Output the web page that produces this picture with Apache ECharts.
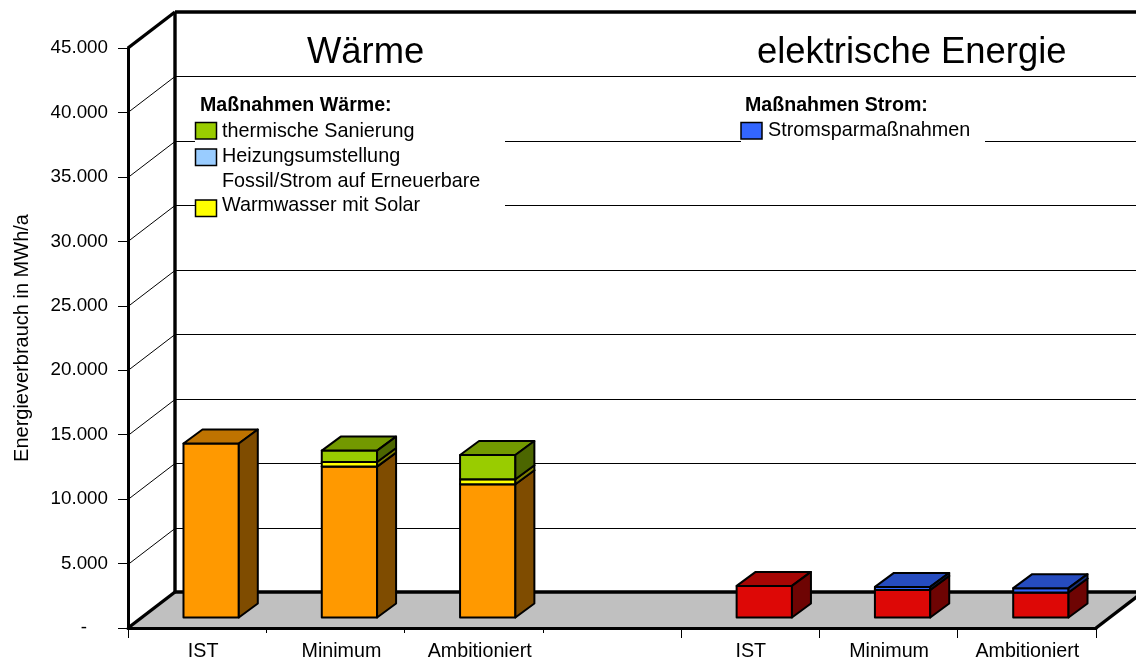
<!DOCTYPE html>
<html>
<head>
<meta charset="utf-8">
<title>Energieverbrauch</title>
<script src="https://cdn.jsdelivr.net/npm/echarts@6/dist/echarts.min.js"></script>
<style>
  html, body { margin: 0; padding: 0; background: #fff; }
  #chart { width: 1136px; height: 661px; }
</style>
</head>
<body>
<div id="chart"></div>
<script>
const categories = ['IST', 'Minimum', 'Ambitioniert', '', 'IST', 'Minimum', 'Ambitioniert']
const yTicks = [0, 5000, 10000, 15000, 20000, 25000, 30000, 35000, 40000, 45000]
// category boundaries that carry a long tick in the original
const longTicks = [0, 4, 5, 6, 7]

// MWh/a
const bestand = [13500, 11710, 10340, null, null, null, null]
const solar = [0, 350, 390, null, null, null, null]
const heizung = [0, 0, 0, null, null, null, null]
const sanierung = [0, 890, 1880, null, null, null, null]
const strom = [null, null, null, null, 2450, 2140, 1940]
const stromsparen = [null, null, null, null, 0, 235, 335]

const FONT = '"Liberation Sans", Arial, sans-serif'
// 3D look: depth of the chart box and where the bars sit in it
const DX = 47
const DY = 36
const BAR_DX = 14
const BAR_DY = 10.5
const BAR_DEPTH_X = 19
const BAR_DEPTH_Y = 14

function poly (points, fill, width) {
  return {
    type: 'polygon',
    shape: { points },
    style: { fill, stroke: '#000', lineWidth: width, lineJoin: 'round' }
  }
}

function line (x1, y1, x2, y2, width) {
  return {
    type: 'line',
    shape: { x1, y1, x2, y2 },
    style: { stroke: '#000', lineWidth: width, fill: null }
  }
}

// walls, floor and gridlines, one item per y tick
function renderWall (params, api) {
  const v = api.value(0)
  const cs = params.coordSys
  const y = Math.round(api.coord([0, v])[1])
  const left = cs.x
  const right = cs.x + cs.width
  const children = []
  if (v === 0) {
    children.push({
      type: 'polygon',
      shape: { points: [[left, y], [left + DX, y - DY], [right + DX, y - DY], [right, y]] },
      style: { fill: '#c0c0c0' }
    })
    children.push(line(left, y, left + DX, y - DY, 3.4))
    children.push(line(left + DX, y - DY, right + DX, y - DY, 3.4))
    children.push(line(right, y, right + DX, y - DY, 3.4))
    children.push(line(left + DX, y - DY, left + DX, y - DY - cs.height, 3.4))
  } else if (v === 45000) {
    children.push(line(left, y, left + DX, y - DY, 3.4))
    children.push(line(left + DX, y - DY, right + DX, y - DY, 3.4))
  } else {
    children.push(line(left, y + 0.5, left + DX, y - DY + 0.5, 1))
    children.push(line(left + DX, y - DY + 0.5, right + DX, y - DY + 0.5, 1))
  }
  return { type: 'group', children }
}

function renderLongTick (params, api) {
  const cs = params.coordSys
  const x = Math.floor(cs.x + api.value(0) * cs.width / categories.length) + 0.5
  const y = cs.y + cs.height
  return line(x, y, x, y + 10, 1)
}

function renderBox (colors) {
  return function (params, api) {
    const low = api.value(1)
    const high = api.value(2)
    if (!(high > low)) return null
    const c = api.coord([api.value(0), low])
    const w = api.size([1, 0])[0] * 0.4
    const x0 = c[0] - w / 2 + BAR_DX
    const x1 = x0 + w
    const y0 = c[1] - BAR_DY
    const y1 = api.coord([api.value(0), high])[1] - BAR_DY
    const bx = BAR_DEPTH_X
    const by = BAR_DEPTH_Y
    return {
      type: 'group',
      children: [
        poly([[x0, y0], [x1, y0], [x1, y1], [x0, y1]], colors[0], 2),
        poly([[x0, y1], [x1, y1], [x1 + bx, y1 - by], [x0 + bx, y1 - by]], colors[1], 2),
        poly([[x1, y0], [x1 + bx, y0 - by], [x1 + bx, y1 - by], [x1, y1]], colors[2], 2)
      ]
    }
  }
}

// stack the named parts on top of each other
function stackSeries (parts) {
  const sum = categories.map(() => 0)
  return parts.map(function (part, n) {
    const data = []
    part.values.forEach(function (val, i) {
      if (val === null) return
      data.push([i, sum[i], sum[i] + val])
      sum[i] += val
    })
    return {
      name: part.name,
      type: 'custom',
      coordinateSystem: 'cartesian2d',
      clip: false,
      silent: true,
      z: 4 + n,
      encode: { x: 0, y: 2 },
      renderItem: renderBox(part.colors),
      data
    }
  })
}

const waermeParts = [
  { name: 'Wärme', values: bestand, colors: ['#ff9900', '#bf7300', '#7f4c00'] },
  { name: 'Warmwasser mit Solar', values: solar, colors: ['#ffff00', '#bfbf00', '#7f7f00'] },
  { name: 'Heizungsumstellung', values: heizung, colors: ['#99ccff', '#7399bf', '#4c667f'] },
  { name: 'thermische Sanierung', values: sanierung, colors: ['#99cc00', '#739900', '#4c6600'] }
]
const stromParts = [
  { name: 'elektrische Energie', values: strom, colors: ['#dd0806', '#a60604', '#6e0403'] },
  { name: 'Stromsparmaßnahmen', values: stromsparen, colors: ['#3366ff', '#264cbf', '#19337f'] }
]

function legendText (text, x, y, bold) {
  return {
    type: 'text',
    z: 100,
    x,
    y,
    style: {
      text,
      fill: '#000',
      font: (bold ? 'bold 19.6px ' : '19.8px ') + FONT,
      textVerticalAlign: 'middle'
    }
  }
}

function swatch (x, y, fill) {
  return {
    type: 'rect',
    z: 100,
    shape: { x, y, width: 21, height: 16.5 },
    style: { fill, stroke: '#000', lineWidth: 1.5 }
  }
}

function blank (x, y, width, height) {
  return {
    type: 'rect',
    z: 99,
    shape: { x, y, width, height },
    style: { fill: '#fff' }
  }
}

const myChart = echarts.init(document.getElementById('chart'), null, { renderer: 'canvas' })
const option = {
  animation: false,
  backgroundColor: '#fff',
  textStyle: { fontFamily: FONT },
  title: [
    { text: 'Wärme', left: 307, top: 35, padding: 0, textStyle: { fontFamily: FONT, fontWeight: 'normal', fontSize: 36.4, color: '#000' } },
    { text: 'elektrische Energie', left: 757, top: 35, padding: 0, textStyle: { fontFamily: FONT, fontWeight: 'normal', fontSize: 36.4, color: '#000' } }
  ],
  grid: { left: 128, right: 40, top: 48, bottom: 33, containLabel: false, outerBoundsMode: 'none' },
  xAxis: {
    type: 'category',
    data: categories,
    z: 3,
    axisLine: { lineStyle: { color: '#000', width: 3 } },
    axisTick: { show: true, alignWithLabel: false, interval: 0, length: 5, lineStyle: { color: '#000', width: 1 } },
    axisLabel: {
      interval: 0,
      color: '#000',
      fontSize: 19.7,
      fontFamily: FONT,
      margin: 14,
      // labels are not centred in the band: left group sits right of it, right group less so
      formatter: function (value, index) {
        return index < 4 ? '{a|' + value + '}' : '{b|' + value + '}'
      },
      rich: {
        a: { color: '#000', fontSize: 19.7, fontFamily: FONT, padding: [0, 0, 0, 12] },
        b: { color: '#000', fontSize: 19.7, fontFamily: FONT, padding: [0, 0, 0, 1] }
      }
    },
    splitLine: { show: false }
  },
  yAxis: {
    type: 'value',
    min: 0,
    max: 45000,
    interval: 5000,
    z: 3,
    name: 'Energieverbrauch in MWh/a',
    nameLocation: 'middle',
    nameGap: 96,
    nameTextStyle: { color: '#000', fontSize: 20, fontFamily: FONT },
    axisLine: { show: true, lineStyle: { color: '#000', width: 3 } },
    axisTick: { show: true, length: 10, lineStyle: { color: '#000', width: 1 } },
    axisLabel: {
      color: '#000',
      fontSize: 18.8,
      fontFamily: FONT,
      margin: 20,
      padding: [2, 0, 0, 0],
      formatter: function (v) {
        if (v === 0) return '-\u00a0\u00a0\u00a0\u00a0'
        return Math.floor(v / 1000) + '.000'
      }
    },
    splitLine: { show: false }
  },
  series: [
    {
      name: 'Wand',
      type: 'custom',
      coordinateSystem: 'cartesian2d',
      clip: false,
      silent: true,
      z: 1,
      encode: { y: 0 },
      renderItem: renderWall,
      data: yTicks.map(v => [v])
    },
    {
      name: 'Teilstriche',
      type: 'custom',
      coordinateSystem: 'cartesian2d',
      clip: false,
      silent: true,
      z: 2,
      encode: { x: 0 },
      renderItem: renderLongTick,
      data: longTicks.map(v => [v])
    }
  ].concat(stackSeries(waermeParts), stackSeries(stromParts)),
  graphic: {
    elements: [
      blank(195, 90, 310, 130),
      blank(741, 118, 244, 32),
      legendText('Maßnahmen Wärme:', 200, 106, true),
      swatch(195.5, 122.5, '#99cc00'),
      legendText('thermische Sanierung', 222, 132),
      swatch(195.5, 149, '#99ccff'),
      legendText('Heizungsumstellung', 222, 157),
      legendText('Fossil/Strom auf Erneuerbare', 222, 182),
      swatch(195.5, 200, '#ffff00'),
      legendText('Warmwasser mit Solar', 222, 206),
      legendText('Maßnahmen Strom:', 745, 106, true),
      swatch(741, 122.5, '#3366ff'),
      legendText('Stromsparmaßnahmen', 768, 131)
    ]
  }
}
myChart.setOption(option)
</script>
</body>
</html>
